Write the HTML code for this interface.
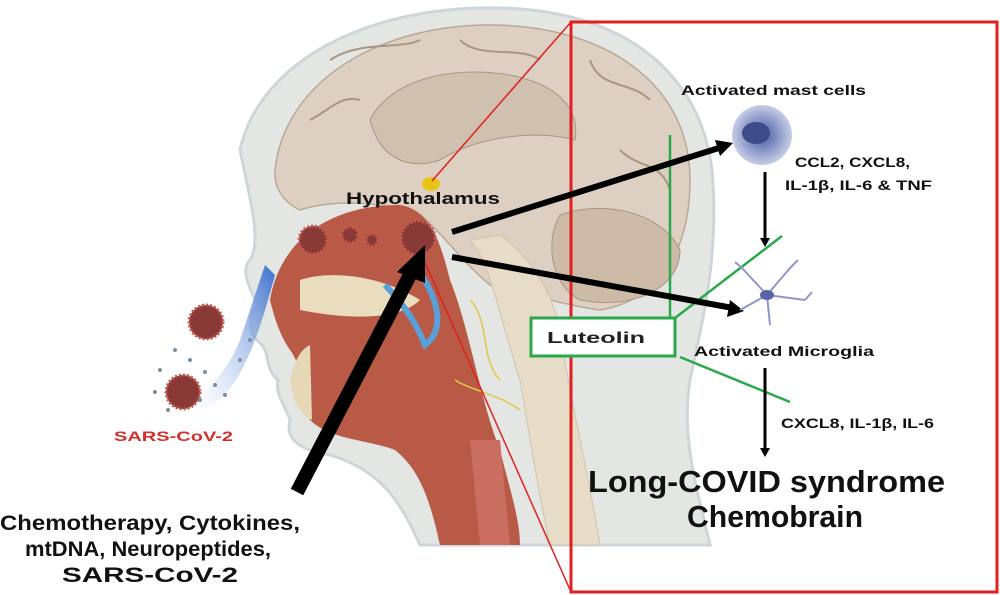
<!DOCTYPE html>
<html><head><meta charset="utf-8"><style>
html,body{margin:0;padding:0;background:#fff;}
svg{display:block;font-family:"Liberation Sans",Arial,sans-serif;font-weight:bold;}
</style></head><body>
<svg width="1000" height="595" viewBox="0 0 1000 595" xmlns="http://www.w3.org/2000/svg">
<defs>
<radialGradient id="cell" cx="50%" cy="50%" r="50%"><stop offset="0" stop-color="#4a5a9a"/><stop offset="0.45" stop-color="#7d8cc0"/><stop offset="1" stop-color="#c7cde6"/></radialGradient>
<linearGradient id="spray" x1="1" y1="0" x2="0" y2="1"><stop offset="0" stop-color="#3a6fd0"/><stop offset="1" stop-color="#e6eefa" stop-opacity="0.2"/></linearGradient>
</defs>
<path d="M240,150 C260,60 370,5 500,8 C620,10 700,70 712,170 C720,260 700,330 690,380 C680,440 700,500 710,545 L420,545 C400,500 380,470 330,455 C300,450 285,440 290,420 C285,405 275,395 278,380 C265,370 270,355 262,345 C250,335 245,320 258,305 C250,290 240,270 250,260 C262,240 250,200 240,150 Z" fill="#e3e6e2" stroke="#cfd6da" stroke-width="3"/>
<path d="M275,170 C285,80 380,25 490,25 C600,25 690,80 690,180 C690,250 660,300 600,310 C560,305 520,290 490,285 C460,260 440,230 420,215 C380,200 330,200 300,210 C280,200 274,185 275,170 Z" fill="#ddd0c2" stroke="#b9a896" stroke-width="1.5"/>
<path d="M370,120 C390,80 450,65 510,75 C560,85 580,110 575,140 C540,130 480,135 440,160 C410,170 380,160 370,120 Z" fill="#cfc0b0" stroke="#a99682"/>
<path d="M330,60 C360,40 400,50 420,40 M460,40 C480,60 520,45 540,60 M590,60 C600,90 630,80 650,100 M310,120 C330,110 340,95 360,100 M620,150 C640,170 660,160 670,190" stroke="#a99682" fill="none" stroke-width="2"/>
<path d="M560,215 C600,200 660,210 680,250 C680,290 630,310 580,300 C550,285 545,240 560,215 Z" fill="#cdbba7" stroke="#a99682"/>
<path d="M470,240 C490,260 500,320 520,380 C530,440 540,500 550,545 L600,545 C590,480 570,400 560,330 C550,280 520,250 500,235 Z" fill="#e6dcc8" stroke="#d0c3ab"/>
<path d="M270,300 C280,240 330,205 400,205 C430,210 440,240 450,280 C470,330 480,400 500,450 C510,490 520,520 520,545 L440,545 C430,500 420,470 395,450 C370,440 330,440 310,420 C300,395 305,370 290,350 C280,335 275,320 270,300 Z" fill="#b85a45"/>
<path d="M300,280 C330,270 380,275 420,300 C400,320 350,320 300,310 Z" fill="#e9dcbf"/>
<path d="M290,380 C295,360 300,350 310,345 L312,420 C300,415 292,400 290,380 Z" fill="#e6d8b6"/>
<path d="M415,265 C440,300 445,330 425,345 C415,320 400,300 385,285" stroke="#5aa0d8" stroke-width="6" fill="none"/>
<path d="M470,440 L500,440 L510,545 L480,545 Z" fill="#c96e60"/>
<path d="M470,300 C490,320 480,360 500,380 M455,380 C470,390 500,395 520,410" stroke="#e2c84a" stroke-width="1.5" fill="none"/>
<ellipse cx="431" cy="184" rx="9" ry="7" fill="#e9c317"/>
<path d="M265,265 L240,340 C225,380 190,400 200,410 C240,400 260,330 275,275 Z" fill="url(#spray)"/>
<g fill="#7b8fa3">
<circle cx="175" cy="350" r="2"/><circle cx="190" cy="360" r="2"/><circle cx="160" cy="370" r="2"/><circle cx="205" cy="372" r="2"/><circle cx="180" cy="382" r="2"/><circle cx="155" cy="392" r="2"/><circle cx="215" cy="385" r="2"/><circle cx="168" cy="410" r="2"/><circle cx="200" cy="400" r="2"/><circle cx="225" cy="395" r="2"/><circle cx="240" cy="360" r="2"/><circle cx="250" cy="340" r="2"/>
</g>
<g fill="#8a3a36" stroke="#c65a50" stroke-dasharray="2 2" stroke-width="3">
<circle cx="206" cy="322" r="17"/><circle cx="183" cy="392" r="17"/><circle cx="418" cy="238" r="17"/><circle cx="313" cy="240" r="14"/><circle cx="350" cy="235" r="8"/><circle cx="372" cy="240" r="6"/>
</g>
<text x="114" y="441" font-size="14" fill="#d3302a" textLength="119" lengthAdjust="spacingAndGlyphs">SARS-CoV-2</text>
<line x1="432" y1="181" x2="571" y2="22" stroke="#e02020" stroke-width="1.5"/>
<line x1="423" y1="258" x2="571" y2="592" stroke="#e02020" stroke-width="1.5"/>
<rect x="571" y="22" width="426" height="570" fill="none" stroke="#e02020" stroke-width="3"/>
<line x1="670" y1="135" x2="670" y2="318" stroke="#2aa84a" stroke-width="2.5"/>
<rect x="531" y="318" width="144" height="38" fill="#fff" stroke="#2aa84a" stroke-width="3"/>
<text x="547" y="343" font-size="16" fill="#222" textLength="98" lengthAdjust="spacingAndGlyphs">Luteolin</text>
<line x1="675" y1="318" x2="782" y2="236" stroke="#2aa84a" stroke-width="2.5"/>
<line x1="680" y1="357" x2="790" y2="402" stroke="#2aa84a" stroke-width="2.5"/>
<g stroke="#000" fill="#000">
<line x1="452" y1="232" x2="722" y2="147" stroke-width="6"/>
<polygon points="733,143 715,140 720,156" stroke="none"/>
<line x1="452" y1="257" x2="733" y2="308" stroke-width="6"/>
<polygon points="744,311 730,300 727,317" stroke="none"/>
<line x1="297" y1="492" x2="410" y2="275" stroke-width="14"/>
<polygon points="425,245 397,272 425,283" stroke="none"/>
<line x1="765" y1="172" x2="765" y2="240" stroke-width="3"/>
<polygon points="760,238 770,238 765,247" stroke="none"/>
<line x1="765" y1="368" x2="765" y2="450" stroke-width="3"/>
<polygon points="760,448 770,448 765,457" stroke="none"/>
</g>
<circle cx="762" cy="135" r="30" fill="url(#cell)"/>
<ellipse cx="756" cy="133" rx="14" ry="11" fill="#3d4b88"/>
<g stroke="#8f96c8" stroke-width="2" fill="none">
<path d="M767,295 L742,268 M767,295 L790,268 M767,295 L805,300 M767,295 L770,325 M767,295 L740,310 M742,268 L735,262 M790,268 L798,260 M805,300 L812,292"/>
</g>
<ellipse cx="767" cy="295" rx="7" ry="5" fill="#5a63a8"/>
<text x="681" y="95" font-size="14" fill="#111" textLength="185" lengthAdjust="spacingAndGlyphs">Activated mast cells</text>
<text x="795" y="167" font-size="13.5" fill="#111" textLength="115" lengthAdjust="spacingAndGlyphs">CCL2, CXCL8,</text>
<text x="785" y="190" font-size="13.5" fill="#111" textLength="147" lengthAdjust="spacingAndGlyphs">IL-1β, IL-6 &amp; TNF</text>
<text x="694" y="356" font-size="14" fill="#111" textLength="180" lengthAdjust="spacingAndGlyphs">Activated Microglia</text>
<text x="781" y="428" font-size="13.5" fill="#111" textLength="153" lengthAdjust="spacingAndGlyphs">CXCL8, IL-1β, IL-6</text>
<text x="588" y="492" font-size="31" fill="#111" textLength="357" lengthAdjust="spacingAndGlyphs">Long-COVID syndrome</text>
<text x="687" y="527" font-size="31" fill="#111" textLength="176" lengthAdjust="spacingAndGlyphs">Chemobrain</text>
<text x="346" y="204" font-size="17" fill="#111" textLength="154" lengthAdjust="spacingAndGlyphs">Hypothalamus</text>
<g font-size="21" fill="#111">
<text x="0" y="530" textLength="300" lengthAdjust="spacingAndGlyphs">Chemotherapy, Cytokines,</text>
<text x="25" y="556" textLength="246" lengthAdjust="spacingAndGlyphs">mtDNA, Neuropeptides,</text>
<text x="62" y="582" textLength="176" lengthAdjust="spacingAndGlyphs">SARS-CoV-2</text>
</g>
</svg>
</body></html>
